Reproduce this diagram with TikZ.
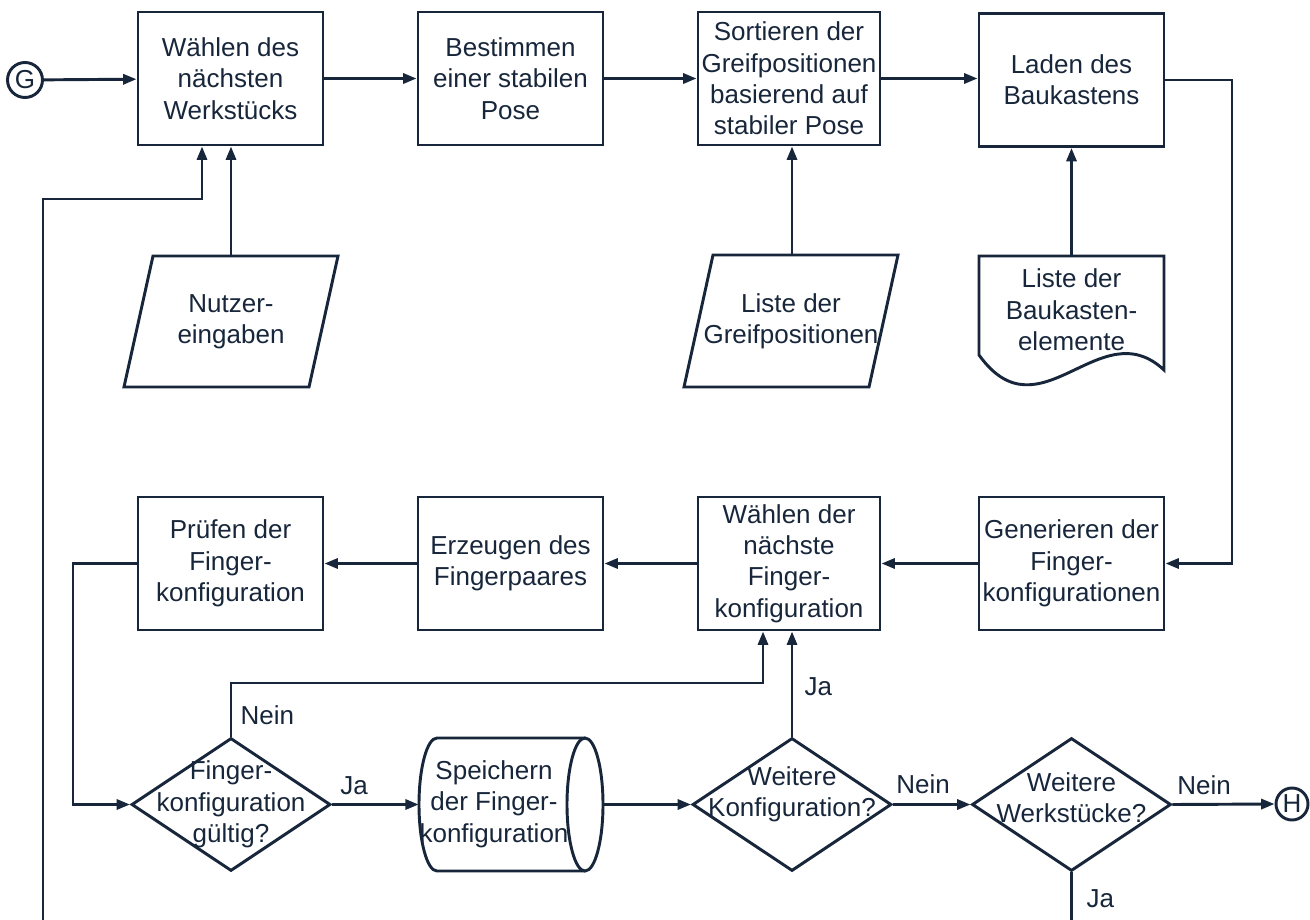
\documentclass[tikz,border=0pt]{standalone}
\usepackage{fontspec}
\setmainfont{Liberation Sans}
\usetikzlibrary{arrows.meta,shapes.geometric,calc}
\definecolor{ink}{HTML}{17263A}
\def\pxu{0.75pt}
\begin{document}
\begin{tikzpicture}[x=0.75pt,y=-0.75pt,
  every node/.style={text=ink},
  txt/.style={font=\fontsize{19.5}{23.5}\selectfont, align=center},
  line/.style={draw=ink, line width=2.2pt},
  arr/.style={line, -{Triangle[length=10pt,width=7.5pt]}},
  proc/.style={txt, draw=ink, line width=2.2pt, rectangle, inner sep=0pt,
    minimum height=133*\pxu},
  dec/.style={draw=ink, line width=2.2pt, diamond, inner sep=0pt,
    minimum width=199*\pxu, minimum height=133*\pxu},
  conn/.style={txt, draw=ink, line width=2.2pt, circle, inner sep=0pt,
    minimum size=35*\pxu},
  lbl/.style={txt}
]
\useasboundingbox (0,0) rectangle (1310,920);

% top row
\node[conn] (G) at (25,80) {G};
\node[proc, minimum width=185*\pxu] (b1) at (230.5,78.5) {Wählen des\\nächsten\\Werkstücks};
\node[proc, minimum width=185*\pxu] (b2) at (510.5,78.5) {Bestimmen\\einer stabilen\\Pose};
\node[proc, minimum width=182*\pxu] (b3) at (789,78.5) {Sortieren der\\Greifpositionen\\basierend auf\\stabiler Pose};
\node[proc, minimum width=185*\pxu] (b4) at (1071.5,80) {Laden des\\Baukastens};

% input parallelograms and the document shape
\node[txt] (in1) at (231,321.5) {Nutzer-\\eingaben};
\draw[line] (153,256) -- (338,256) -- (309,387) -- (124,387) -- cycle;
\coordinate (in1top) at (231,256);
\node[txt] (in2) at (791,321) {Liste der\\Greifpositionen};
\draw[line] (713,255) -- (898,255) -- (869,387) -- (684,387) -- cycle;
\coordinate (in2top) at (792,255);
\node[txt] (doc) at (1071.5,310) {Liste der\\Baukasten-\\elemente};
\draw[line] (979,355) -- (979,256) -- (1164,256) -- (1164,370)
  .. controls (1100,310) and (1040,440) .. (979,355) -- cycle;
\coordinate (doctop) at (1071.5,256);

% second row
\node[proc, minimum width=185*\pxu] (r1) at (230.5,563.5) {Prüfen der\\Finger-\\konfiguration};
\node[proc, minimum width=185*\pxu] (r2) at (510.5,563.5) {Erzeugen des\\Fingerpaares};
\node[proc, minimum width=182*\pxu] (r3) at (789,563.5) {Wählen der\\nächste\\Finger-\\konfiguration};
\node[proc, minimum width=185*\pxu] (r4) at (1071.5,563.5) {Generieren der\\Finger-\\konfigurationen};

% bottom row: decisions and the storage cylinder
\node[dec, label={[txt]center:Finger-\\konfiguration\\gültig?}] (d1) at (231,804.5) {};
\node[inner sep=0pt, minimum width=184*\pxu, minimum height=133*\pxu] (cyl) at (511,804.5) {};
\draw[line] (585,738) -- (437,738)
  arc[start angle=270, end angle=90, x radius=18, y radius=66.5] -- (585,871);
\draw[line] (585,804.5) ellipse[x radius=18, y radius=66.5];
\node[txt] (cyltxt) at (494,804) {Speichern\\der Finger-\\konfiguration};
\node[dec, label={[txt, yshift=10*\pxu]center:Weitere\\Konfiguration?}] (d2) at (792,804.5) {};
\node[dec, label={[txt, yshift=7*\pxu]center:Weitere\\Werkstücke?}] (d3) at (1071.5,804.5) {};
\node[conn, minimum size=32*\pxu] (H) at (1292,804) {H};

% helper points for routed connectors
\coordinate (lpb) at (43,920);
\coordinate (lpt) at (202,199);
\coordinate (rtx) at (1232,79);
\coordinate (ltx) at (73,563.5);
\coordinate (nturn) at (763,683);
\coordinate (d3end) at (1071.5,920);

% connectors
\draw[arr] (G) -- (b1);
\draw[arr] (b1) -- (b2);
\draw[arr] (b2) -- (b3);
\draw[arr] (b3.east) -- (b3.east -| b4.west);
\draw[arr] (in1top) -- (in1top |- b1.south);
\draw[arr] (lpb) |- (lpt) -- (lpt |- b1.south);
\draw[arr] (in2top) -- (in2top |- b3.south);
\draw[arr] (doctop) -- (b4.south);
\draw[arr] (b4.east) -- (b4.east -| rtx) |- (r4.east);
\draw[arr] (r4) -- (r3);
\draw[arr] (r3) -- (r2);
\draw[arr] (r2) -- (r1);
\draw[arr] (r1.west) -- (ltx) |- (d1.west);
\draw[arr] (d1.north) |- (nturn) -- (nturn |- r3.south);
\draw[arr] (d1.east) -- (cyl.west);
\draw[arr] (cyl.east) -- (d2.west);
\draw[arr] (d2.north) -- (d2.north |- r3.south);
\draw[arr] (d2.east) -- (d3.west);
\draw[arr] (d3.east) -- (H.west);
\draw[line] (d3.south) -- (d3end);

% branch labels
\node[lbl, anchor=west] (l1) at (236,715) {Nein};
\node[lbl] (l2) at (354,786) {Ja};
\node[lbl, anchor=west] (l3) at (800,687) {Ja};
\node[lbl] (l4) at (923,784) {Nein};
\node[lbl] (l5) at (1204,785) {Nein};
\node[lbl, anchor=west] (l6) at (1082,899) {Ja};
\end{tikzpicture}
\end{document}
